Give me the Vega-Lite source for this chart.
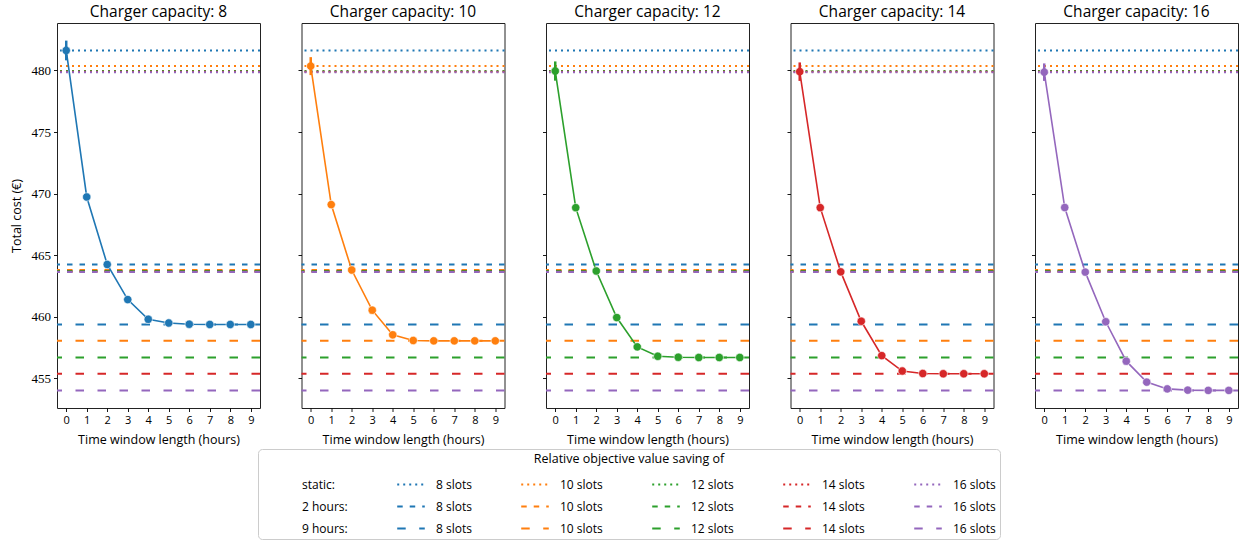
{
  "$schema": "https://vega.github.io/schema/vega-lite/v6.json",
  "padding": {"left": 9, "top": 4, "right": 5, "bottom": 5},
  "background": "white",
  "datasets": {
    "refs": [
      {"key": "s8", "value": 481.62}, {"key": "s10", "value": 480.35}, {"key": "s12", "value": 479.95}, {"key": "s14", "value": 479.9}, {"key": "s16", "value": 479.86},
      {"key": "h8", "value": 464.25}, {"key": "h10", "value": 463.8}, {"key": "h12", "value": 463.72}, {"key": "h14", "value": 463.65}, {"key": "h16", "value": 463.63},
      {"key": "n8", "value": 459.38}, {"key": "n10", "value": 458.05}, {"key": "n12", "value": 456.7}, {"key": "n14", "value": 455.38}, {"key": "n16", "value": 454.03}
    ],
    "series": [
      {"cap": 8, "x": 0, "y": 481.62}, {"cap": 8, "x": 1, "y": 469.73}, {"cap": 8, "x": 2, "y": 464.25}, {"cap": 8, "x": 3, "y": 461.4}, {"cap": 8, "x": 4, "y": 459.8}, {"cap": 8, "x": 5, "y": 459.5}, {"cap": 8, "x": 6, "y": 459.4}, {"cap": 8, "x": 7, "y": 459.38}, {"cap": 8, "x": 8, "y": 459.38}, {"cap": 8, "x": 9, "y": 459.38},
      {"cap": 10, "x": 0, "y": 480.35}, {"cap": 10, "x": 1, "y": 469.11}, {"cap": 10, "x": 2, "y": 463.8}, {"cap": 10, "x": 3, "y": 460.54}, {"cap": 10, "x": 4, "y": 458.54}, {"cap": 10, "x": 5, "y": 458.08}, {"cap": 10, "x": 6, "y": 458.05}, {"cap": 10, "x": 7, "y": 458.05}, {"cap": 10, "x": 8, "y": 458.05}, {"cap": 10, "x": 9, "y": 458.05},
      {"cap": 12, "x": 0, "y": 479.95}, {"cap": 12, "x": 1, "y": 468.86}, {"cap": 12, "x": 2, "y": 463.72}, {"cap": 12, "x": 3, "y": 459.94}, {"cap": 12, "x": 4, "y": 457.56}, {"cap": 12, "x": 5, "y": 456.8}, {"cap": 12, "x": 6, "y": 456.72}, {"cap": 12, "x": 7, "y": 456.7}, {"cap": 12, "x": 8, "y": 456.7}, {"cap": 12, "x": 9, "y": 456.7},
      {"cap": 14, "x": 0, "y": 479.9}, {"cap": 14, "x": 1, "y": 468.86}, {"cap": 14, "x": 2, "y": 463.65}, {"cap": 14, "x": 3, "y": 459.64}, {"cap": 14, "x": 4, "y": 456.85}, {"cap": 14, "x": 5, "y": 455.6}, {"cap": 14, "x": 6, "y": 455.4}, {"cap": 14, "x": 7, "y": 455.38}, {"cap": 14, "x": 8, "y": 455.38}, {"cap": 14, "x": 9, "y": 455.38},
      {"cap": 16, "x": 0, "y": 479.86}, {"cap": 16, "x": 1, "y": 468.87}, {"cap": 16, "x": 2, "y": 463.63}, {"cap": 16, "x": 3, "y": 459.6}, {"cap": 16, "x": 4, "y": 456.4}, {"cap": 16, "x": 5, "y": 454.7}, {"cap": 16, "x": 6, "y": 454.15}, {"cap": 16, "x": 7, "y": 454.05}, {"cap": 16, "x": 8, "y": 454.03}, {"cap": 16, "x": 9, "y": 454.03}
    ],
    "err": [
      {"cap": 8, "x": 0, "lo": 480.82, "hi": 482.42},
      {"cap": 10, "x": 0, "lo": 479.62, "hi": 481.08},
      {"cap": 12, "x": 0, "lo": 479.17, "hi": 480.73},
      {"cap": 14, "x": 0, "lo": 479.15, "hi": 480.65},
      {"cap": 16, "x": 0, "lo": 479.15, "hi": 480.57}
    ]
  },
  "spacing": 34.5,
  "resolve": {"scale": {"color": "shared", "strokeDash": "shared"}},
  "hconcat": [
    {
      "width": 203, "height": 385,
      "title": "Charger capacity: 8",
      "layer": [
        {"data": {"name": "refs"}, "mark": {"type": "rule", "strokeWidth": 2},
         "encoding": {
           "y": {"field": "value", "type": "quantitative", "scale": {"domain": [452.6, 483.85], "nice": false, "zero": false},
                 "axis": {"values": [455, 460, 465, 470, 475, 480], "title": "Total cost (€)"}},
           "color": {"field": "key", "type": "nominal",
             "scale": {"domain": ["r1","s8","s10","s12","s14","s16","r2","h8","h10","h12","h14","h16","r3","n8","n10","n12","n14","n16"],
                       "range": ["transparent","#1f77b4","#ff7f0e","#2ca02c","#d62728","#9467bd","transparent","#1f77b4","#ff7f0e","#2ca02c","#d62728","#9467bd","transparent","#1f77b4","#ff7f0e","#2ca02c","#d62728","#9467bd"]},
             "legend": {"title": "Relative objective value saving of", "orient": "none", "legendX": 201, "legendY": 426,
                        "columns": 6, "direction": "horizontal", "symbolType": "stroke",
                        "labelExpr": "datum.value == 'r1' ? 'static:' : datum.value == 'r2' ? '2 hours:' : datum.value == 'r3' ? '9 hours:' : substring(datum.value, 1) + ' slots'"}},
           "strokeDash": {"field": "key", "type": "nominal",
             "scale": {"domain": ["r1","s8","s10","s12","s14","s16","r2","h8","h10","h12","h14","h16","r3","n8","n10","n12","n14","n16"],
                       "range": [[1,0],[2,4],[2,4],[2,4],[2,4],[2,4],[1,0],[5.5,7],[5.5,7],[5.5,7],[5.5,7],[5.5,7],[1,0],[8.5,13.5],[8.5,13.5],[8.5,13.5],[8.5,13.5],[8.5,13.5]]},
             "legend": {"title": "Relative objective value saving of", "orient": "none", "legendX": 201, "legendY": 426,
                        "columns": 6, "direction": "horizontal", "symbolType": "stroke",
                        "labelExpr": "datum.value == 'r1' ? 'static:' : datum.value == 'r2' ? '2 hours:' : datum.value == 'r3' ? '9 hours:' : substring(datum.value, 1) + ' slots'"}}
         }},
        {"data": {"name": "series"}, "transform": [{"filter": "datum.cap == 8"}],
         "mark": {"type": "line", "color": "#1f77b4", "strokeWidth": 1.6, "point": {"filled": true, "size": 70, "color": "#1f77b4", "stroke": "white", "strokeWidth": 0.6}},
         "encoding": {"x": {"field": "x", "type": "quantitative", "scale": {"domain": [-0.45, 9.45], "nice": false},
                            "axis": {"values": [0,1,2,3,4,5,6,7,8,9], "labelOverlap": false, "labelFlush": false, "title": "Time window length (hours)"}},
                      "y": {"field": "y", "type": "quantitative", "scale": {"domain": [452.6, 483.85], "nice": false, "zero": false}}}},
        {"data": {"name": "err"}, "transform": [{"filter": "datum.cap == 8"}], "mark": {"type": "rule", "color": "#1f77b4", "strokeWidth": 2.5},
         "encoding": {"x": {"field": "x", "type": "quantitative", "scale": {"domain": [-0.45, 9.45], "nice": false},
                            "axis": {"values": [0,1,2,3,4,5,6,7,8,9], "labelOverlap": false, "labelFlush": false, "title": "Time window length (hours)"}},
                      "y": {"field": "lo", "type": "quantitative", "scale": {"domain": [452.6, 483.85], "nice": false, "zero": false}}, "y2": {"field": "hi"}}}
      ]
    },
    {
      "width": 203, "height": 385,
      "title": "Charger capacity: 10",
      "layer": [
        {"data": {"name": "refs"}, "mark": {"type": "rule", "strokeWidth": 2},
         "encoding": {
           "y": {"field": "value", "type": "quantitative", "scale": {"domain": [452.6, 483.85], "nice": false, "zero": false},
                 "axis": {"values": [455, 460, 465, 470, 475, 480], "labels": false, "title": null}},
           "color": {"field": "key", "type": "nominal"},
           "strokeDash": {"field": "key", "type": "nominal"}
         }},
        {"data": {"name": "series"}, "transform": [{"filter": "datum.cap == 10"}],
         "mark": {"type": "line", "color": "#ff7f0e", "strokeWidth": 1.6, "point": {"filled": true, "size": 70, "color": "#ff7f0e", "stroke": "white", "strokeWidth": 0.6}},
         "encoding": {"x": {"field": "x", "type": "quantitative", "scale": {"domain": [-0.45, 9.45], "nice": false},
                            "axis": {"values": [0,1,2,3,4,5,6,7,8,9], "labelOverlap": false, "labelFlush": false, "title": "Time window length (hours)"}},
                      "y": {"field": "y", "type": "quantitative", "scale": {"domain": [452.6, 483.85], "nice": false, "zero": false}}}},
        {"data": {"name": "err"}, "transform": [{"filter": "datum.cap == 10"}], "mark": {"type": "rule", "color": "#ff7f0e", "strokeWidth": 2.5},
         "encoding": {"x": {"field": "x", "type": "quantitative", "scale": {"domain": [-0.45, 9.45], "nice": false},
                            "axis": {"values": [0,1,2,3,4,5,6,7,8,9], "labelOverlap": false, "labelFlush": false, "title": "Time window length (hours)"}},
                      "y": {"field": "lo", "type": "quantitative", "scale": {"domain": [452.6, 483.85], "nice": false, "zero": false}}, "y2": {"field": "hi"}}}
      ]
    },
    {
      "width": 203, "height": 385,
      "title": "Charger capacity: 12",
      "layer": [
        {"data": {"name": "refs"}, "mark": {"type": "rule", "strokeWidth": 2},
         "encoding": {
           "y": {"field": "value", "type": "quantitative", "scale": {"domain": [452.6, 483.85], "nice": false, "zero": false},
                 "axis": {"values": [455, 460, 465, 470, 475, 480], "labels": false, "title": null}},
           "color": {"field": "key", "type": "nominal"},
           "strokeDash": {"field": "key", "type": "nominal"}
         }},
        {"data": {"name": "series"}, "transform": [{"filter": "datum.cap == 12"}],
         "mark": {"type": "line", "color": "#2ca02c", "strokeWidth": 1.6, "point": {"filled": true, "size": 70, "color": "#2ca02c", "stroke": "white", "strokeWidth": 0.6}},
         "encoding": {"x": {"field": "x", "type": "quantitative", "scale": {"domain": [-0.45, 9.45], "nice": false},
                            "axis": {"values": [0,1,2,3,4,5,6,7,8,9], "labelOverlap": false, "labelFlush": false, "title": "Time window length (hours)"}},
                      "y": {"field": "y", "type": "quantitative", "scale": {"domain": [452.6, 483.85], "nice": false, "zero": false}}}},
        {"data": {"name": "err"}, "transform": [{"filter": "datum.cap == 12"}], "mark": {"type": "rule", "color": "#2ca02c", "strokeWidth": 2.5},
         "encoding": {"x": {"field": "x", "type": "quantitative", "scale": {"domain": [-0.45, 9.45], "nice": false},
                            "axis": {"values": [0,1,2,3,4,5,6,7,8,9], "labelOverlap": false, "labelFlush": false, "title": "Time window length (hours)"}},
                      "y": {"field": "lo", "type": "quantitative", "scale": {"domain": [452.6, 483.85], "nice": false, "zero": false}}, "y2": {"field": "hi"}}}
      ]
    },
    {
      "width": 203, "height": 385,
      "title": "Charger capacity: 14",
      "layer": [
        {"data": {"name": "refs"}, "mark": {"type": "rule", "strokeWidth": 2},
         "encoding": {
           "y": {"field": "value", "type": "quantitative", "scale": {"domain": [452.6, 483.85], "nice": false, "zero": false},
                 "axis": {"values": [455, 460, 465, 470, 475, 480], "labels": false, "title": null}},
           "color": {"field": "key", "type": "nominal"},
           "strokeDash": {"field": "key", "type": "nominal"}
         }},
        {"data": {"name": "series"}, "transform": [{"filter": "datum.cap == 14"}],
         "mark": {"type": "line", "color": "#d62728", "strokeWidth": 1.6, "point": {"filled": true, "size": 70, "color": "#d62728", "stroke": "white", "strokeWidth": 0.6}},
         "encoding": {"x": {"field": "x", "type": "quantitative", "scale": {"domain": [-0.45, 9.45], "nice": false},
                            "axis": {"values": [0,1,2,3,4,5,6,7,8,9], "labelOverlap": false, "labelFlush": false, "title": "Time window length (hours)"}},
                      "y": {"field": "y", "type": "quantitative", "scale": {"domain": [452.6, 483.85], "nice": false, "zero": false}}}},
        {"data": {"name": "err"}, "transform": [{"filter": "datum.cap == 14"}], "mark": {"type": "rule", "color": "#d62728", "strokeWidth": 2.5},
         "encoding": {"x": {"field": "x", "type": "quantitative", "scale": {"domain": [-0.45, 9.45], "nice": false},
                            "axis": {"values": [0,1,2,3,4,5,6,7,8,9], "labelOverlap": false, "labelFlush": false, "title": "Time window length (hours)"}},
                      "y": {"field": "lo", "type": "quantitative", "scale": {"domain": [452.6, 483.85], "nice": false, "zero": false}}, "y2": {"field": "hi"}}}
      ]
    },
    {
      "width": 203, "height": 385,
      "title": "Charger capacity: 16",
      "layer": [
        {"data": {"name": "refs"}, "mark": {"type": "rule", "strokeWidth": 2},
         "encoding": {
           "y": {"field": "value", "type": "quantitative", "scale": {"domain": [452.6, 483.85], "nice": false, "zero": false},
                 "axis": {"values": [455, 460, 465, 470, 475, 480], "labels": false, "title": null}},
           "color": {"field": "key", "type": "nominal"},
           "strokeDash": {"field": "key", "type": "nominal"}
         }},
        {"data": {"name": "series"}, "transform": [{"filter": "datum.cap == 16"}],
         "mark": {"type": "line", "color": "#9467bd", "strokeWidth": 1.6, "point": {"filled": true, "size": 70, "color": "#9467bd", "stroke": "white", "strokeWidth": 0.6}},
         "encoding": {"x": {"field": "x", "type": "quantitative", "scale": {"domain": [-0.45, 9.45], "nice": false},
                            "axis": {"values": [0,1,2,3,4,5,6,7,8,9], "labelOverlap": false, "labelFlush": false, "title": "Time window length (hours)"}},
                      "y": {"field": "y", "type": "quantitative", "scale": {"domain": [452.6, 483.85], "nice": false, "zero": false}}}},
        {"data": {"name": "err"}, "transform": [{"filter": "datum.cap == 16"}], "mark": {"type": "rule", "color": "#9467bd", "strokeWidth": 2.5},
         "encoding": {"x": {"field": "x", "type": "quantitative", "scale": {"domain": [-0.45, 9.45], "nice": false},
                            "axis": {"values": [0,1,2,3,4,5,6,7,8,9], "labelOverlap": false, "labelFlush": false, "title": "Time window length (hours)"}},
                      "y": {"field": "lo", "type": "quantitative", "scale": {"domain": [452.6, 483.85], "nice": false, "zero": false}}, "y2": {"field": "hi"}}}
      ]
    }
  ],
  "config": {
    "font": "Open Sans",
    "view": {"stroke": "#222222", "strokeWidth": 1},
    "title": {"font": "Open Sans", "fontSize": 15.5, "fontWeight": "normal", "color": "#000000", "offset": 3},
    "axis": {"grid": false, "domain": false, "tickColor": "#000000", "tickSize": 3.5, "tickWidth": 0.9,
             "labelColor": "#000000", "labelFont": "Open Sans", "labelFontSize": 11, "labelPadding": 3, "labelOverlap": false, "labelFlush": false,
             "titleColor": "#000000", "titleFont": "Open Sans", "titleFontSize": 12.5, "titleFontWeight": "normal", "titlePadding": 5},
    "axisX": {"titlePadding": 8},
    "axisY": {"labelFont": "Liberation Serif", "labelFontSize": 13, "titlePadding": 8},
    "legend": {"labelFont": "Open Sans", "labelFontSize": 12, "labelColor": "#000000", "titleFont": "Open Sans", "titleFontSize": 12.5, "titleFontWeight": "normal", "titleColor": "#000000", "titleLimit": 600,
               "titleAnchor": "middle", "symbolSize": 760, "symbolStrokeWidth": 2, "labelOffset": 10, "columnPadding": 45, "rowPadding": 1, "titlePadding": 4,
               "padding": 4, "strokeColor": "#cccccc", "cornerRadius": 4, "fillColor": "#ffffff", "gridAlign": "each"}
  }
}
